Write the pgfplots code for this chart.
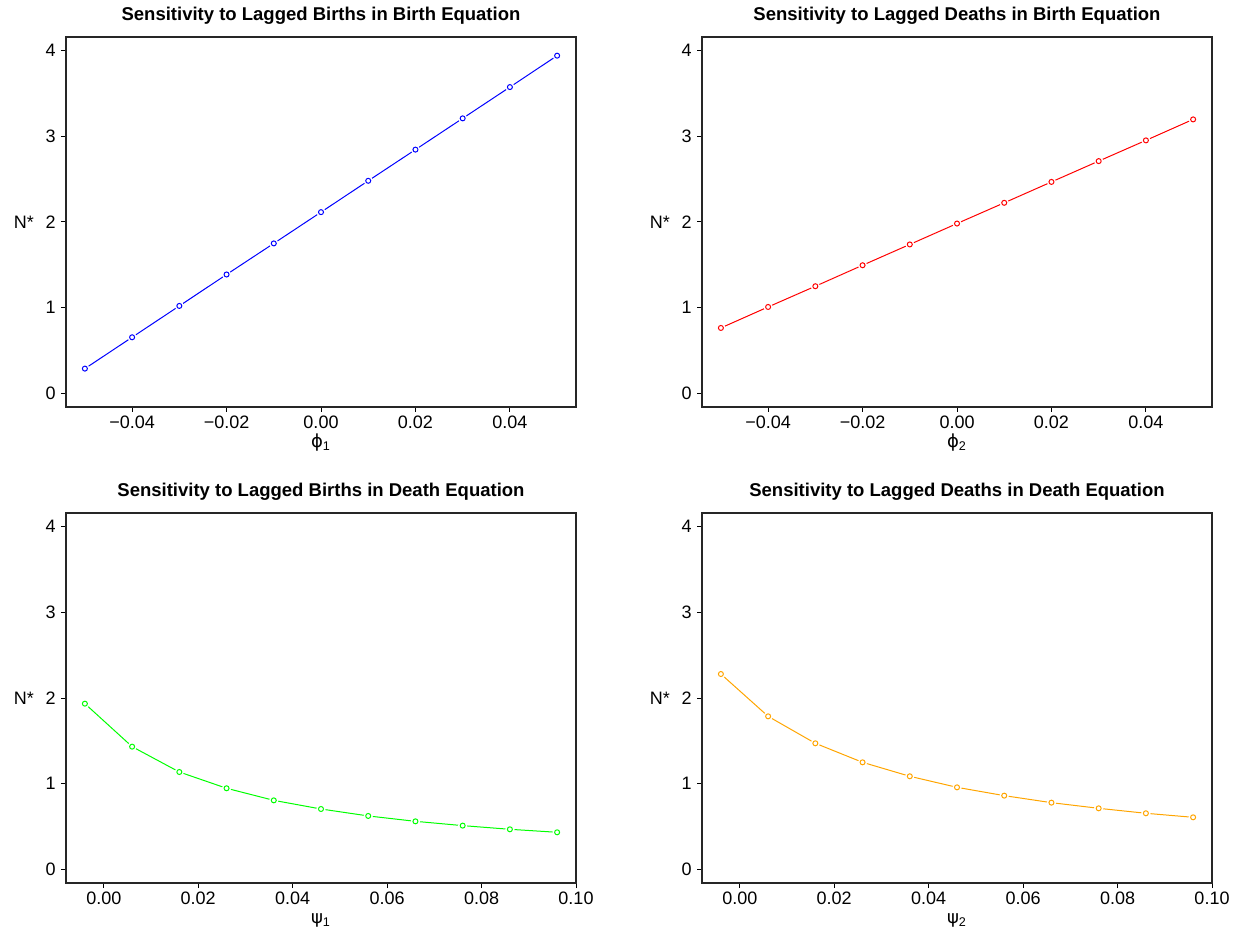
\documentclass[border=0pt]{standalone}
\usepackage{pgfplots}
\pgfplotsset{compat=1.18}
\usepackage{fontspec}
\setmainfont{Liberation Sans}
\newfontfamily\dvs{DejaVu Sans}
\definecolor{rblue}{RGB}{0,0,255}
\definecolor{rred}{RGB}{255,0,0}
\definecolor{rgreen}{RGB}{0,255,0}
\definecolor{rorange}{RGB}{255,165,0}
\pgfplotsset{
  rpanel/.style={
    scale only axis, width=255bp, height=185bp,
    anchor=south west,
    axis line style={line width=0.6bp, black!85},
    ymin=-0.16, ymax=4.16, ytick={0,1,2,3,4},
    yticklabels={0,1,2,3,4},
    scaled x ticks=false, scaled y ticks=false,
    tick align=outside, tickwidth=2.5bp,
    major tick style={line width=0.5bp, black},
    xtick pos=bottom, ytick pos=left,
    tick label style={font=\fontsize{9bp}{10bp}\selectfont},
    yticklabel style={anchor=east, inner sep=0pt, xshift=-2.5bp},
    xticklabel style={anchor=north, inner sep=0pt, yshift=-2bp},
    title style={font=\bfseries\fontsize{9.25bp}{11bp}\selectfont, at={(axis description cs:0.5,1)}, anchor=base, yshift=2.5bp},
    xlabel style={font=\fontsize{9bp}{10bp}\selectfont, at={(axis description cs:0.5,-0.11)}, anchor=base, inner sep=0pt},
    ylabel style={font=\fontsize{9bp}{10bp}\selectfont, rotate=-90, at={(axis description cs:-0.0824,0.5)}, anchor=center, inner sep=0pt},
    ylabel={N*},
    clip=false,
  },
  toprow/.style={xmin=-0.054, xmax=0.054, xtick={-0.04,-0.02,0,0.02,0.04},
    xticklabels={−0.04,−0.02,0.00,0.02,0.04}},
  botrow/.style={xmin=-0.008, xmax=0.100, xtick={0,0.02,0.04,0.06,0.08,0.10},
    xticklabels={0.00,0.02,0.04,0.06,0.08,0.10}},
  rline/.style={line width=0.5bp, mark=none},
  rgap/.style={only marks, mark=*, mark size=2.1bp, white, mark options={draw=none, fill=white}},
  rmark/.style={only marks, mark=o, mark size=1.25bp, mark options={line width=0.5bp}},
}
\pgfplotstableread{
x y
-0.05 0.288
-0.04 0.654
-0.03 1.020
-0.02 1.387
-0.01 1.750
0.00 2.115
0.01 2.481
0.02 2.845
0.03 3.210
0.04 3.575
0.05 3.942
}\tA
\pgfplotstableread{
x y
-0.05 0.763
-0.04 1.008
-0.03 1.250
-0.02 1.495
-0.01 1.738
0.00 1.982
0.01 2.224
0.02 2.468
0.03 2.711
0.04 2.953
0.05 3.198
}\tB
\pgfplotstableread{
x y
-0.004 1.934
0.006 1.432
0.016 1.136
0.026 0.946
0.036 0.805
0.046 0.704
0.056 0.623
0.066 0.560
0.076 0.510
0.086 0.467
0.096 0.432
}\tC
\pgfplotstableread{
x y
-0.004 2.280
0.006 1.786
0.016 1.471
0.026 1.249
0.036 1.086
0.046 0.957
0.056 0.860
0.066 0.778
0.076 0.712
0.086 0.654
0.096 0.607
}\tD
\begin{document}
\begin{tikzpicture}
\path[use as bounding box] (0,0) rectangle (620.5bp,465bp);
\begin{axis}[rpanel, toprow, at={(33bp,261.5bp)},
  title={Sensitivity to Lagged Births in Birth Equation},
  xlabel={{\dvs ϕ}\textsubscript{1}}]
\addplot[rline, rblue] table {\tA};
\addplot[rgap] table {\tA};
\addplot[rmark, rblue] table {\tA};
\end{axis}
\begin{axis}[rpanel, toprow, at={(351bp,261.5bp)},
  title={Sensitivity to Lagged Deaths in Birth Equation},
  xlabel={{\dvs ϕ}\textsubscript{2}}]
\addplot[rline, rred] table {\tB};
\addplot[rgap] table {\tB};
\addplot[rmark, rred] table {\tB};
\end{axis}
\begin{axis}[rpanel, botrow, at={(33bp,23.5bp)},
  title={Sensitivity to Lagged Births in Death Equation},
  xlabel={{\dvs ψ}\textsubscript{1}}]
\addplot[rline, rgreen] table {\tC};
\addplot[rgap] table {\tC};
\addplot[rmark, rgreen] table {\tC};
\end{axis}
\begin{axis}[rpanel, botrow, at={(351bp,23.5bp)},
  title={Sensitivity to Lagged Deaths in Death Equation},
  xlabel={{\dvs ψ}\textsubscript{2}}]
\addplot[rline, rorange] table {\tD};
\addplot[rgap] table {\tD};
\addplot[rmark, rorange] table {\tD};
\end{axis}
\end{tikzpicture}
\end{document}
